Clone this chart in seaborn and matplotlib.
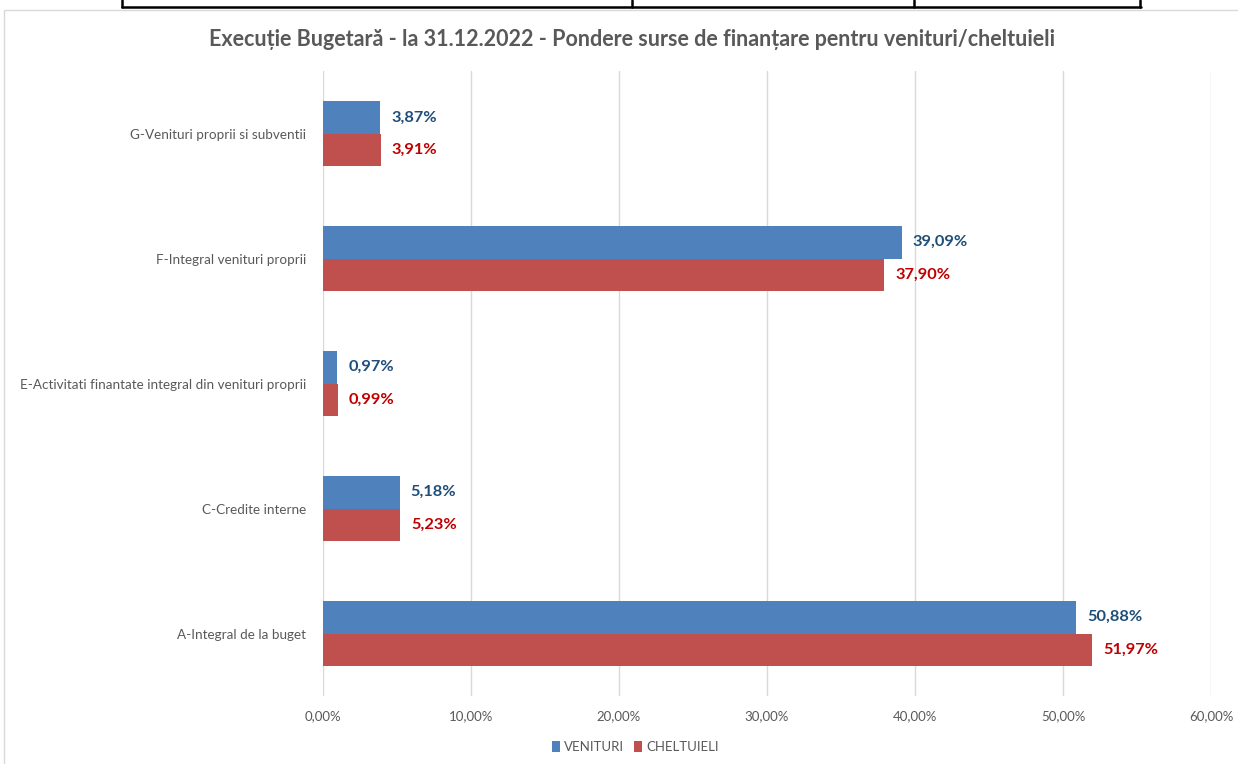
import matplotlib.pyplot as plt
import numpy as np
import pandas as pd
import seaborn as sns
from matplotlib.lines import Line2D
from matplotlib.patches import Rectangle

CATEGORIES = [
    "G-Venituri proprii si subventii",
    "F-Integral venituri proprii",
    "E-Activitati finantate integral din venituri proprii",
    "C-Credite interne",
    "A-Integral de la buget",
]
VENITURI = [3.87, 39.09, 0.97, 5.18, 50.88]
CHELTUIELI = [3.91, 37.90, 0.99, 5.23, 51.97]
SERIES = ["VENITURI", "CHELTUIELI"]
X_TICKS = [0, 10, 20, 30, 40, 50, 60]

TITLE = "Execuție Bugetară - la 31.12.2022 - Pondere surse de finanțare pentru venituri/cheltuieli"
BAR_COLORS = {"VENITURI": "#4F81BD", "CHELTUIELI": "#C0504D"}
LABEL_COLORS = {"VENITURI": "#1F4E79", "CHELTUIELI": "#C00000"}

AX_RECT = [0.2609, 0.089, 0.7173, 0.818]


def fmt_pct(v: float) -> str:
    return f"{v:.2f}".replace(".", ",") + "%"


def main() -> None:
    sns.set_theme(style="white")
    plt.rcParams["font.family"] = ["Lato", "DejaVu Sans"]

    df = pd.DataFrame(
        {
            "category": CATEGORIES * 2,
            "series": [SERIES[0]] * len(CATEGORIES) + [SERIES[1]] * len(CATEGORIES),
            "value": VENITURI + CHELTUIELI,
        }
    )

    fig = plt.figure(figsize=(12.38, 7.64), dpi=100)
    ax = fig.add_axes(AX_RECT)

    # screenshot decoration: piece of a table above and the chart frame
    fig.add_artist(Rectangle((4 / 1238, -0.01), 1.02, 1 - 10 / 764 + 0.01, transform=fig.transFigure,
                             fill=False, edgecolor="#D9D9D9", linewidth=1))
    ty = 1 - 7 / 764
    fig.add_artist(Line2D([122 / 1238, 1141 / 1238], [ty, ty], transform=fig.transFigure, color="black", lw=1.8))
    for xp in [122, 632, 914, 1140]:
        fig.add_artist(Line2D([xp / 1238, xp / 1238], [ty, 1.0], transform=fig.transFigure, color="black", lw=1.8))

    sns.barplot(
        data=df,
        x="value",
        y="category",
        hue="series",
        order=CATEGORIES,
        hue_order=SERIES,
        palette=BAR_COLORS,
        orient="y",
        width=0.52,
        gap=0,
        saturation=1,
        linewidth=0,
        ax=ax,
    )

    for container, name in zip(ax.containers, SERIES):
        ax.bar_label(
            container,
            labels=[fmt_pct(v) for v in container.datavalues],
            padding=8,
            color=LABEL_COLORS[name],
            fontsize=11.8,
            fontweight="bold",
        )

    ax.set_xlim(0, 60)
    ax.set_ylim(len(CATEGORIES) - 0.5, -0.5)
    ax.set_xticks(X_TICKS)
    ax.set_xticklabels([fmt_pct(t) for t in X_TICKS], fontsize=9.5, color="#595959")
    ax.tick_params(axis="x", length=0, pad=10)
    ax.tick_params(axis="y", length=0, pad=12, labelsize=9.7, labelcolor="#595959")
    ax.set_xlabel("")
    ax.set_ylabel("")
    ax.grid(axis="x", color="#D9D9D9", linewidth=1)
    ax.set_axisbelow(True)
    for spine in ax.spines.values():
        spine.set_visible(False)

    # legend centred at about (635, 747) px of the figure
    lx = (635 / 1238 - AX_RECT[0]) / AX_RECT[2]
    ly = ((1 - 747 / 764) - AX_RECT[1]) / AX_RECT[3]
    sns.move_legend(
        ax,
        "center",
        bbox_to_anchor=(lx, ly),
        ncol=2,
        frameon=False,
        title=None,
        fontsize=9.5,
        handlelength=0.6,
        handleheight=0.9,
        handletextpad=0.3,
        columnspacing=0.8,
    )
    for txt in ax.get_legend().get_texts():
        txt.set_color("#595959")

    fig.text(632 / 1238, 1 - 40 / 764, TITLE, ha="center", va="center", fontsize=15.5, fontweight="bold", color="#595959")

    fig.savefig("out.png", dpi=100)
    plt.close(fig)


if __name__ == "__main__":
    main()
